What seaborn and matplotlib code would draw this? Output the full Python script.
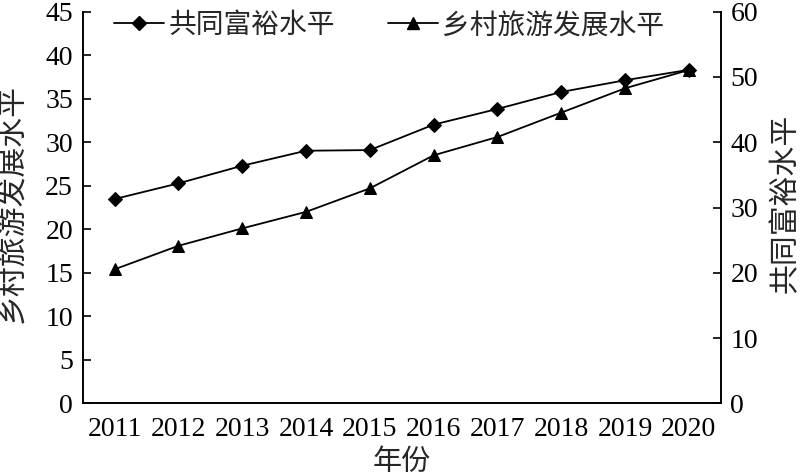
import numpy as np
import pandas as pd
import seaborn as sns
import matplotlib.pyplot as plt
from matplotlib.lines import Line2D

# data
years = ['2011', '2012', '2013', '2014', '2015', '2016', '2017', '2018', '2019', '2020']
tourism = [15.4, 18.1, 20.1, 22.0, 24.7, 28.5, 30.6, 33.4, 36.2, 38.3]   # left axis
prosperity = [31.3, 33.7, 36.4, 38.7, 38.8, 42.7, 45.1, 47.7, 49.5, 51.1]  # right axis

tourism_label = '乡村旅游发展水平'
prosperity_label = '共同富裕水平'

df = pd.DataFrame({'年份': years, 'tourism': tourism, 'prosperity': prosperity})

sns.set_style('white')
plt.rcParams['font.family'] = ['Liberation Serif', 'Noto Sans CJK SC']
plt.rcParams['axes.unicode_minus'] = False

fig = plt.figure(figsize=(8, 4.76), dpi=100)
ax = fig.add_axes([0.1034, 0.1527, 0.7975, 0.8227])
ax2 = ax.twinx()

sns.lineplot(data=df, x='年份', y='tourism', ax=ax, color='black', marker='^',
             markersize=8, linewidth=1.3, markeredgecolor='black')
sns.lineplot(data=df, x='年份', y='prosperity', ax=ax2, color='black', marker='D',
             markersize=7, linewidth=1.3, markeredgecolor='black')

ax.set_xlim(-0.5, 9.5)
ax.set_ylim(0, 45)
ax.set_yticks(np.arange(0, 46, 5))
ax2.set_ylim(0, 60)
ax2.set_yticks(np.arange(0, 61, 10))

# x ticks between categories, labels at centres
ax.set_xticks(np.arange(len(years)))
ax.set_xticklabels(years)
ax.set_xticks(np.arange(0.5, 9, 1), minor=True)
ax.tick_params(axis='x', which='major', length=0, pad=10, labelsize=20, colors='black')
ax.tick_params(axis='x', which='minor', direction='in', length=6, width=1.2, color='black')
ax.tick_params(axis='y', direction='in', length=5.5, width=1.2, pad=7, labelsize=20, colors='black')
ax2.tick_params(axis='y', direction='in', length=5.5, width=1.2, pad=7, labelsize=20, colors='black')

for a in (ax, ax2):
    a.spines['top'].set_visible(False)
    for s in ('left', 'right', 'bottom'):
        a.spines[s].set_color('black')
        a.spines[s].set_linewidth(1.2)

ax.set_xlabel('年份', fontsize=21)
ax.xaxis.set_label_coords(0.5, -0.118)
ax.set_ylabel(tourism_label, fontsize=21.5)
ax.yaxis.set_label_coords(-0.088, 0.51)
ax2.set_ylabel(prosperity_label, fontsize=21.5, rotation=90)
ax2.yaxis.set_label_coords(1.08, 0.51)

handles = [
    Line2D([], [], color='black', marker='D', markersize=7, linewidth=1.3),
    Line2D([], [], color='black', marker='^', markersize=8, linewidth=1.3),
]
ax2.legend(handles, [prosperity_label, tourism_label], loc='upper left',
           bbox_to_anchor=(0.01, 1.06), ncol=2, frameon=False, fontsize=20,
           handlelength=1.8, handletextpad=0.15, columnspacing=1.9)

fig.savefig('out.png', dpi=100)
